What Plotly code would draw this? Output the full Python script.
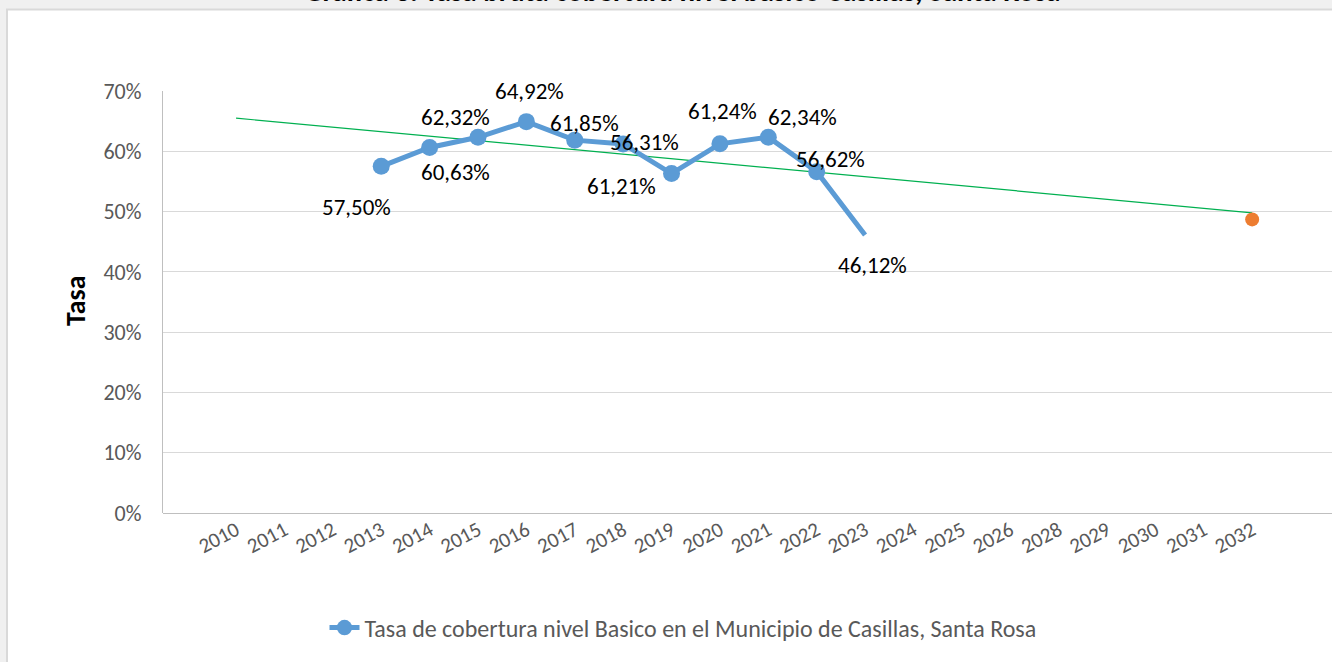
import plotly.graph_objects as go

# ---- data ----
years = ["2010", "2011", "2012", "2013", "2014", "2015", "2016", "2017", "2018", "2019",
         "2020", "2021", "2022", "2023", "2024", "2025", "2026", "2028", "2029", "2030",
         "2031", "2032"]
serie_years = ["2013", "2014", "2015", "2016", "2017", "2018", "2019", "2020", "2021", "2022", "2023"]
serie_vals = [57.50, 60.63, 62.32, 64.92, 61.85, 61.21, 56.31, 61.24, 62.34, 56.62, 46.12]
trend_years = ["2010", "2032"]
trend_vals = [65.5, 49.8]
proj_year = ["2032"]
proj_val = [48.7]

# label texts and their placement (category index offset, value) as in reference
label_texts = ["57,50%", "62,32%", "60,63%", "64,92%", "61,85%", "61,21%",
               "56,31%", "61,24%", "62,34%", "56,62%", "46,12%"]
label_x = [2.48, 4.53, 4.53, 6.06, 7.21, 7.96, 8.45, 10.05, 11.7, 12.28, 13.15]
label_y = [50.75, 65.7, 56.55, 70.0, 64.7, 54.2, 61.5, 66.7, 65.7, 58.7, 41.1]

title_text = "Grafica 3. Tasa bruta cobertura nivel basico Casillas, Santa Rosa"
legend_name = "Tasa de cobertura nivel Basico en el Municipio de Casillas, Santa Rosa"

FONT = "Calibri, Carlito, Lato, sans-serif"

# ---- geometry (pixels) ----
W, H = 1332, 662
L, T, B = 163, 91, 149
R = 0
pw = W - L - R
ph = H - T - B

def px2x(px):
    return (px - L) / pw

def py2y(py):
    return (H - B - py) / ph

fig = go.Figure()

fig.add_trace(go.Scatter(
    x=trend_years, y=trend_vals, mode="lines",
    line=dict(color="#00b050", width=1.2), showlegend=False, hoverinfo="skip"))

fig.add_trace(go.Scatter(
    x=serie_years, y=serie_vals, mode="lines+markers", name=legend_name,
    line=dict(color="#5b9bd5", width=5),
    marker=dict(color="#5b9bd5", size=[17] * (len(serie_vals) - 1) + [0],
                opacity=1, line=dict(width=0)),
))

fig.add_trace(go.Scatter(
    x=proj_year, y=proj_val, mode="markers",
    marker=dict(color="#ed7d31", size=14, opacity=1, line=dict(width=0)), showlegend=False))

for t, xx, yy in zip(label_texts, label_x, label_y):
    fig.add_annotation(x=xx, y=yy, xref="x", yref="y", text=t, showarrow=False,
                       font=dict(family=FONT, size=23, color="#000000"),
                       xanchor="center", yanchor="middle")

# title (clipped by top edge)
fig.add_annotation(x=px2x(682), y=py2y(-9), xref="paper", yref="paper",
                   text="<b>" + title_text + "</b>", showarrow=False,
                   font=dict(family=FONT, size=29, color="#000000"),
                   xanchor="center", yanchor="middle")

# y-axis title
fig.add_annotation(x=px2x(75), y=py2y(301), xref="paper", yref="paper",
                   text="<b>Tasa</b>", textangle=-90, showarrow=False,
                   font=dict(family=FONT, size=28, color="#000000"),
                   xanchor="center", yanchor="middle")

# chart area white with border, grey surrounding
fig.add_shape(type="rect", xref="paper", yref="paper", layer="below",
              x0=px2x(7), x1=px2x(W + 20), y0=py2y(H + 20), y1=py2y(9.5),
              fillcolor="#ffffff", line=dict(color="#d9d9d9", width=2))

fig.update_layout(
    width=W, height=H,
    margin=dict(l=L, r=R, t=T, b=B),
    paper_bgcolor="#f0f0f0",
    plot_bgcolor="rgba(0,0,0,0)",
    font=dict(family=FONT, color="#595959"),
    showlegend=True,
    legend=dict(orientation="h", x=px2x(683), xanchor="center", y=py2y(628), yanchor="middle",
                font=dict(family=FONT, size=24, color="#595959"),
                bgcolor="rgba(0,0,0,0)"),
)

fig.update_xaxes(
    type="category", categoryorder="array", categoryarray=years,
    range=[-1.51, 22.65], tickangle=-28, showgrid=False,
    showline=False, zeroline=False, ticks="",
    tickfont=dict(family=FONT, size=21, color="#595959"),
)
fig.update_yaxes(
    range=[0, 70], tickvals=[0, 10, 20, 30, 40, 50, 60, 70],
    ticktext=["0%", "10%", "20%", "30%", "40%", "50%", "60%", "70%"],
    showgrid=True, gridcolor="#d9d9d9", gridwidth=1.3,
    showline=True, linecolor="#bfbfbf", linewidth=1.3,
    zeroline=True, zerolinecolor="#bfbfbf", zerolinewidth=1.3,
    ticks="", ticklen=0, ticklabelstandoff=16,
    tickfont=dict(family=FONT, size=22, color="#595959"),
)

fig.write_html(
    "out.html",
    config={"displayModeBar": False},
    post_script="document.body.style.margin='0';document.body.style.overflow='hidden';",
)
